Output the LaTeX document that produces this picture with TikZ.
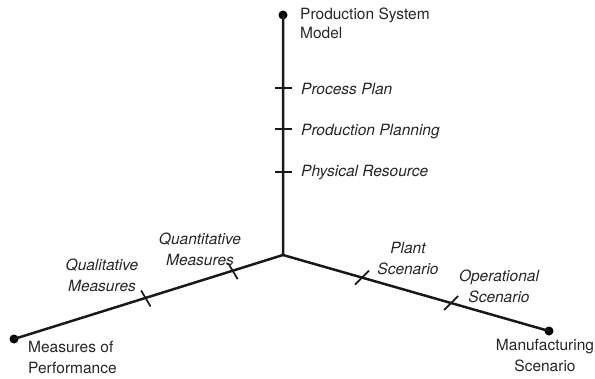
\documentclass[tikz,border=0pt]{standalone}
\usepackage{fontspec}
\setmainfont{TeX Gyre Heros}
\usetikzlibrary{calc}
\begin{document}
\begin{tikzpicture}[x=1pt,y=-1pt,
 axisline/.style={line width=2.5pt, black!90},
 tickmark/.style={line width=1.7pt, black!90},
 dotmark/.style={circle, fill=black, inner sep=0pt, minimum size=9pt},
 lbl/.style={inner sep=0pt, align=center, text=black!85, font=\fontsize{15.5}{21}\selectfont},
 ilbl/.style={lbl, font=\fontsize{15.5}{21}\selectfont\itshape}]
\useasboundingbox (0,0) rectangle (595,378);
\coordinate (O) at (283,255);
\node[dotmark] (T) at (283,15) {};
\node[dotmark] (L) at (14,339) {};
\node[dotmark] (R) at (549,331) {};
\draw[axisline] (T.center) -- (O) -- (L.center);
\draw[axisline] (O) -- (R.center);
% ticks on the vertical axis
\foreach \n/\y in {v1/88, v2/129, v3/172} {
  \coordinate (\n) at (283,\y);
  \draw[tickmark] ($(\n)+(-8,0)$) -- ($(\n)+(9,0)$);
}
% ticks on the left axis
\coordinate (q1) at ($(O)!0.187!(L)$);
\coordinate (q2) at ($(O)!0.511!(L)$);
\foreach \n in {q1,q2} {
  \draw[tickmark] ($(\n)+(-4.5,-7.5)$) -- ($(\n)+(5,8.5)$);
}
% ticks on the right axis
\coordinate (r1) at ($(O)!0.297!(R)$);
\coordinate (r2) at ($(O)!0.632!(R)$);
\foreach \n in {r1,r2} {
  \draw[tickmark] ($(\n)+(-7,7)$) -- ($(\n)+(7,-7)$);
}
% labels
\node[lbl, anchor=north west, align=left, font=\fontsize{15.5}{19}\selectfont] (tl) at (300,8) {Production System\\Model};
\node[ilbl, anchor=base west] (pp) at (301,94) {Process Plan};
\node[ilbl, anchor=base west] (ppl) at (301,135) {Production Planning};
\node[ilbl, anchor=base west] (pr) at (301,176) {Physical Resource};
\node[ilbl, anchor=north] (qn) at (200,232.5) {Quantitative\\Measures};
\node[ilbl, anchor=north] (ql) at (102,259) {Qualitative\\Measures};
\node[lbl, anchor=north west, align=left] (mp) at (28,341) {Measures of\\Performance};
\node[ilbl, anchor=north] (ps) at (408,242) {Plant\\Scenario};
\node[ilbl, anchor=north] (os) at (499,270) {Operational\\Scenario};
\node[lbl, anchor=north] (ms) at (545,339) {Manufacturing\\Scenario};
\end{tikzpicture}
\end{document}
